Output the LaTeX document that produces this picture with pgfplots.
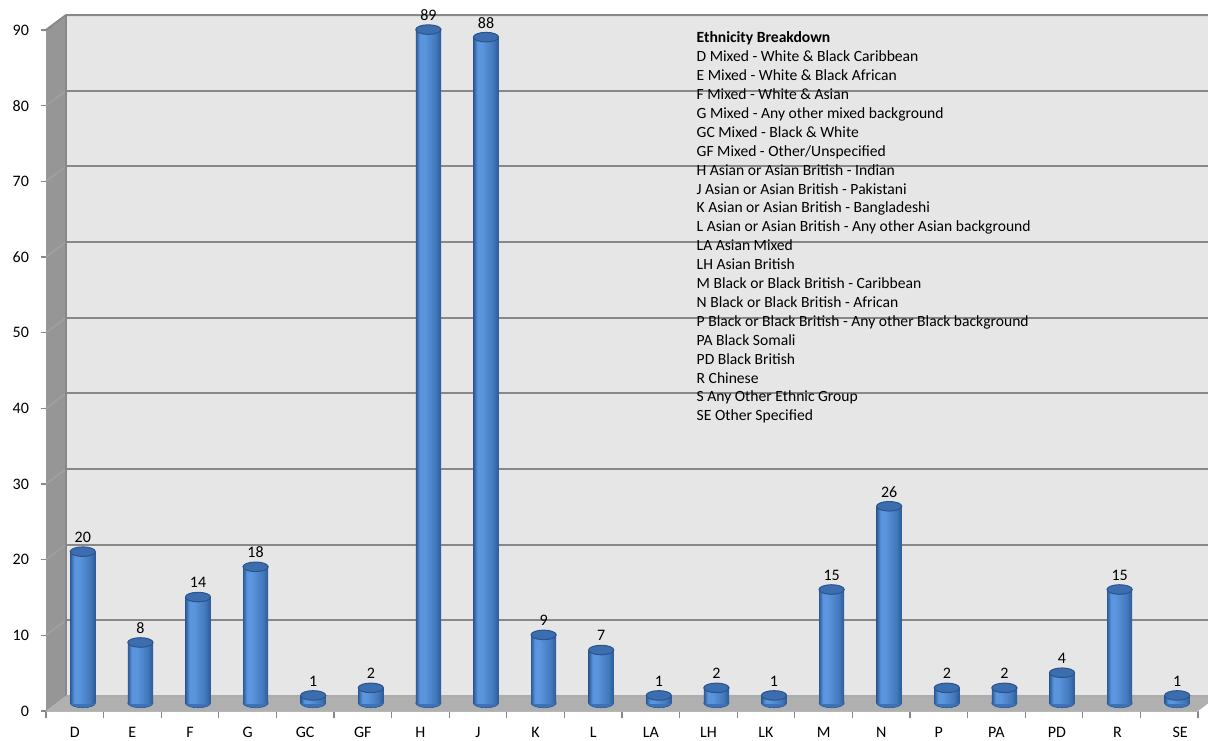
\documentclass[border=0pt]{standalone}
\usepackage{pgfplots}
\usepackage{pgfplotstable}
\pgfplotsset{compat=1.18}
\usepackage{fontspec}
\setmainfont{Carlito}

\definecolor{wallc}{HTML}{E6E6E6}
\definecolor{sidec}{HTML}{969696}
\definecolor{floorc}{HTML}{B0B0B0}
\definecolor{gridc}{HTML}{888888}
\definecolor{cylA}{HTML}{2C5A97}
\definecolor{cylB}{HTML}{5B95DD}
\definecolor{cylC}{HTML}{4379BD}
\definecolor{cylbase}{HTML}{3F72B5}
\definecolor{topc}{HTML}{3C6DAF}
\definecolor{topline}{HTML}{2A548C}

\pgfdeclarehorizontalshading{cyl}{100bp}{color(0bp)=(cylA); color(25bp)=(cylA);
  color(33bp)=(cylB); color(42bp)=(cylB); color(64bp)=(cylC); color(75bp)=(cylA);
  color(100bp)=(cylA)}

\pgfplotstableread{
x  y  base
0  20 0
1  8  0
2  14 0
3  18 0
4  1  0
5  2  0
6  89 0
7  88 0
8  9  0
9  7  0
10 1  0
11 2  0
12 1  0
13 15 0
14 26 0
15 2  0
16 2  0
17 4  0
18 15 0
19 1  0
}\ethdata

\tikzset{back/.style={shift={(10pt,7.5pt)}}}

\begin{document}
\begin{tikzpicture}
\begin{axis}[
    scale only axis,
    width=576pt, height=340.5pt,
    xmin=-0.5, xmax=19.5, ymin=0, ymax=90,
    clip=false,
    axis x line=bottom, axis y line=left,
    x axis line style={-, draw=gridc!60},
    y axis line style={-, draw=gridc},
    tick style={draw=gridc, line width=0.6pt},
    tick align=outside,
    ytick={0,10,...,90},
    major tick length=2.5pt,
    xtick={0,1,...,16,17.05,18.1,19.19},
    xticklabels={D,E,F,G,GC,GF,H,J,K,L,LA,LH,LK,M,N,P,PA,PD,R,SE},
    x tick style={draw=none},
    minor xtick={-0.5,0.5,...,19.5},
    minor x tick style={draw=gridc, line width=0.6pt},
    minor tick length=3.5pt,
    ticklabel style={font=\fontsize{8}{9.6}\selectfont},
    xticklabel style={yshift=-2pt},
    yticklabel style={xshift=-2.5pt},
    /pgf/number format/assume math mode=true,
]
% side wall, back wall and floor
\fill[sidec] (axis cs:-0.5,0) -- ([back]axis cs:-0.5,0) -- ([back]axis cs:-0.5,90) -- (axis cs:-0.5,90) -- cycle;
\fill[wallc] ([back]axis cs:-0.5,0) rectangle ([back]axis cs:19.5,90);
\pgfplotsinvokeforeach{10,20,...,80}{
  \draw[gridc!80, line width=0.8pt] (axis cs:-0.5,#1) -- ([back]axis cs:-0.5,#1);
  \draw[gridc, line width=1pt] ([back]axis cs:-0.5,#1) -- ([back]axis cs:19.5,#1);
}
\draw[gridc, line width=1pt] (axis cs:-0.5,90) -- ([back]axis cs:-0.5,90) -- ([back]axis cs:19.5,90);
\draw[gridc, line width=0.8pt] ([back]axis cs:-0.5,0) -- ([back]axis cs:-0.5,90);
\fill[floorc] (axis cs:-0.5,0) -- (axis cs:19.5,0) -- ([back]axis cs:19.5,0) -- ([back]axis cs:-0.5,0) -- cycle;
\draw[gridc!70, line width=0.6pt] ([back]axis cs:-0.5,0) -- ([back]axis cs:19.5,0);

% cylinder bottoms
\addplot[only marks, mark=*, mark size=6.3pt, xshift=4pt, yshift=4pt,
  mark options={yscale=0.38, fill=cylbase, draw=cylA, line width=0.3pt}]
  table[x=x, y=base] {\ethdata};
% cylinder bodies: one shaded node per category, as tall as its value
\addplot[only marks, mark=none, xshift=4pt, yshift=4pt,
  visualization depends on={y \as \rawy},
  nodes near coords={},
  every node near coord/.style={rectangle, anchor=north, inner sep=0pt, outer sep=0pt,
    minimum width=12.6pt, minimum height={\rawy*3.78333pt}, shade, shading=cyl, draw=none}]
  table[x=x, y=y] {\ethdata};
% cylinder tops with value labels
\addplot[only marks, mark=*, mark size=6.3pt, xshift=4pt, yshift=4pt,
  mark options={yscale=0.38, fill=topc, draw=topline, line width=0.5pt},
  nodes near coords,
  nodes near coords style={font=\fontsize{8}{9.6}\selectfont, anchor=center, yshift=7.2pt, inner sep=0pt,
    /pgf/number format/assume math mode=true}]
  table[x=x, y=y] {\ethdata};

\node[anchor=north west, align=left, inner sep=0pt, font=\fontsize{7.8}{9.45}\selectfont]
  at (axis cs:10.79,89.8) {%
  \textbf{Ethnicity Breakdown}\\
  D Mixed - White \& Black Caribbean\\
  E Mixed - White \& Black African\\
  F Mixed - White \& Asian\\
  G Mixed - Any other mixed background\\
  GC Mixed - Black \& White\\
  GF Mixed - Other/Unspecified\\
  H Asian or Asian British - Indian\\
  J Asian or Asian British - Pakistani\\
  K Asian or Asian British - Bangladeshi\\
  L Asian or Asian British - Any other Asian background\\
  LA Asian Mixed\\
  LH Asian British\\
  M Black or Black British - Caribbean\\
  N Black or Black British - African\\
  P Black or Black British - Any other Black background\\
  PA Black Somali\\
  PD Black British\\
  R Chinese\\
  S Any Other Ethnic Group\\
  SE Other Specified};
\coordinate (O) at (axis cs:-0.5,0);
\end{axis}
\pgfresetboundingbox
\useasboundingbox ([shift={(-23pt,-14.5pt)}]O) rectangle ([shift={(581pt,355.5pt)}]O);
\end{tikzpicture}
\end{document}
